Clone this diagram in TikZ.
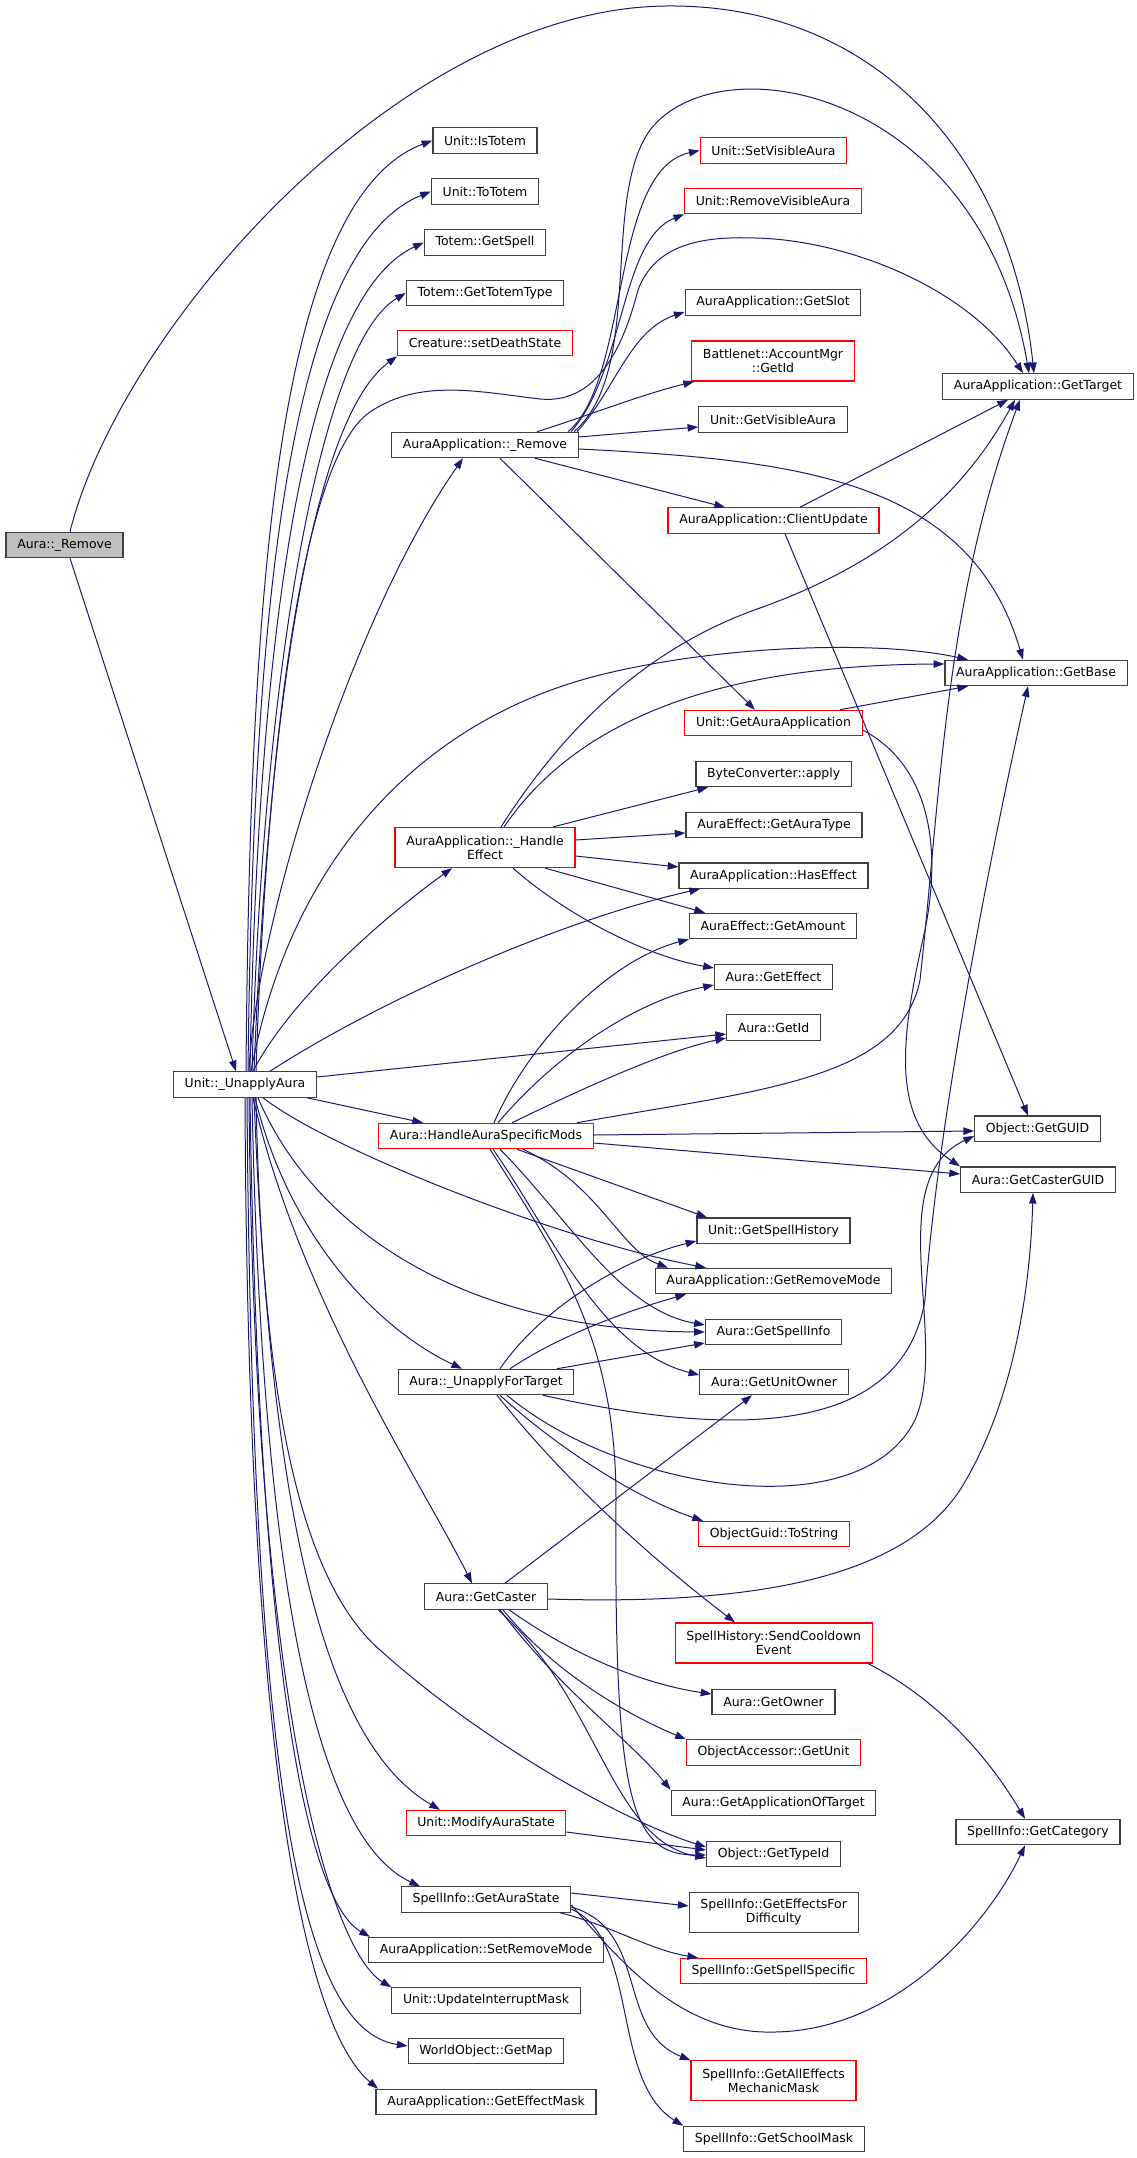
\documentclass[tikz,border=0pt]{standalone}
\usepackage{fontspec}
\setmainfont{DejaVu Sans}
\usetikzlibrary{arrows.meta}
\definecolor{edgeblue}{RGB}{25,25,112}
\definecolor{boxgray}{RGB}{64,64,64}
\definecolor{rootfill}{RGB}{191,191,191}
\begin{document}
\begin{tikzpicture}[x=0.75pt,y=-0.75pt,>={Triangle[length=8pt,width=5.6pt]},font=\fontsize{9.35pt}{10.5pt}\selectfont,
  fn/.style={draw=boxgray,line width=0.9pt,fill=white,inner xsep=8.4pt,inner ysep=2pt,minimum height=19pt,align=center},
  fnred/.style={fn,draw=red},
  fnroot/.style={fn,fill=rootfill},
  twoline/.style={minimum height=30pt},
  call/.style={->,draw=edgeblue,line width=0.75pt}]
\useasboundingbox (0,0) rectangle (1136,2158);
\node[fnroot] (remove) at (64.5,545) {Aura::\_Remove};
\node[fn] (unapply) at (245,1084.5) {Unit::\_UnapplyAura};
\node[fn] (isTotem) at (485,140.5) {Unit::IsTotem};
\node[fn] (toTotem) at (485,191.5) {Unit::ToTotem};
\node[fn] (getSpell) at (485,242.5) {Totem::GetSpell};
\node[fn] (totemType) at (485,293) {Totem::GetTotemType};
\node[fnred] (deathState) at (485,343) {Creature::setDeathState};
\node[fn] (appRemove) at (485,445) {AuraApplication::\_Remove};
\node[fnred,twoline] (handleEffect) at (485,847.5) {AuraApplication::\_Handle\\Effect};
\node[fnred] (specificMods) at (486,1136) {Aura::HandleAuraSpecificMods};
\node[fn] (unapplyTarget) at (486,1382) {Aura::\_UnapplyForTarget};
\node[fn] (getCaster) at (486,1596.5) {Aura::GetCaster};
\node[fnred] (modifyState) at (486,1823) {Unit::ModifyAuraState};
\node[fn] (auraState) at (486,1899.5) {SpellInfo::GetAuraState};
\node[fn] (setRemoveMode) at (486,1950) {AuraApplication::SetRemoveMode};
\node[fn] (interruptMask) at (486,2000.5) {Unit::UpdateInterruptMask};
\node[fn] (getMap) at (486,2051) {WorldObject::GetMap};
\node[fn] (effectMask) at (486,2102) {AuraApplication::GetEffectMask};
\node[fnred] (setVisible) at (773.5,150.5) {Unit::SetVisibleAura};
\node[fnred] (removeVisible) at (773,201) {Unit::RemoveVisibleAura};
\node[fn] (getSlot) at (773,302.5) {AuraApplication::GetSlot};
\node[fnred,twoline] (bnetId) at (773,361) {Battlenet::AccountMgr\\::GetId};
\node[fn] (getVisible) at (773,419.5) {Unit::GetVisibleAura};
\node[fnred] (clientUpdate) at (773.5,520.5) {AuraApplication::ClientUpdate};
\node[fnred] (getAuraApp) at (773.5,723) {Unit::GetAuraApplication};
\node[fn] (byteApply) at (773.7,774) {ByteConverter::apply};
\node[fn] (auraType) at (774,825) {AuraEffect::GetAuraType};
\node[fn] (hasEffect) at (773.5,875.7) {AuraApplication::HasEffect};
\node[fn] (getAmount) at (773,926) {AuraEffect::GetAmount};
\node[fn] (getEffect) at (773.5,977) {Aura::GetEffect};
\node[fn] (getId) at (773.5,1027.5) {Aura::GetId};
\node[fn] (spellHistory) at (773.5,1230.7) {Unit::GetSpellHistory};
\node[fn] (getRemoveMode) at (773.5,1281) {AuraApplication::GetRemoveMode};
\node[fn] (spellInfo) at (773.5,1332) {Aura::GetSpellInfo};
\node[fn] (unitOwner) at (774,1382) {Aura::GetUnitOwner};
\node[fnred] (toString) at (774,1534) {ObjectGuid::ToString};
\node[fnred,twoline] (cooldownEvent) at (773.7,1643) {SpellHistory::SendCooldown\\Event};
\node[fn] (getOwner) at (773.5,1702) {Aura::GetOwner};
\node[fnred] (getUnit) at (773.5,1752.5) {ObjectAccessor::GetUnit};
\node[fn] (appOfTarget) at (773.5,1803) {Aura::GetApplicationOfTarget};
\node[fn] (typeId) at (773.5,1854) {Object::GetTypeId};
\node[fn,twoline] (effectsDiff) at (773.7,1912.5) {SpellInfo::GetEffectsFor\\Difficulty};
\node[fnred] (spellSpecific) at (773.3,1971) {SpellInfo::GetSpellSpecific};
\node[fnred,twoline] (mechanicMask) at (773.5,2080.8) {SpellInfo::GetAllEffects\\MechanicMask};
\node[fn] (schoolMask) at (774,2139) {SpellInfo::GetSchoolMask};
\node[fn] (getTarget) at (1038,386.5) {AuraApplication::GetTarget};
\node[fn] (getBase) at (1036,673) {AuraApplication::GetBase};
\node[fn] (getGuid) at (1037.5,1128.7) {Object::GetGUID};
\node[fn] (casterGuid) at (1038,1179.6) {Aura::GetCasterGUID};
\node[fn] (getCategory) at (1038,1832) {SpellInfo::GetCategory};
\draw[call] (remove.north -| 70,0) .. controls (120,330) and (400,8) .. (667,6) .. controls (870,4) and (1010,150) .. (getTarget.north -| 1034,0);
\draw[call] (remove.south -| 70,0) -- (unapply.north -| 236,0);
\draw[call] (unapply.north -| 246,0) .. controls (250,600) and (275,200) .. (isTotem.west);
\draw[call] (unapply.north -| 248,0) .. controls (253,630) and (285,250) .. (toTotem.west);
\draw[call] (unapply.north -| 250,0) .. controls (257,660) and (300,300) .. (getSpell.west);
\draw[call] (unapply.north -| 252,0) .. controls (262,690) and (318,345) .. (totemType.west);
\draw[call] (unapply.north -| 254,0) .. controls (268,720) and (310,420) .. (deathState.south west);
\draw[call] (unapply.north -| 256,0) .. controls (266,760) and (300,460) .. (370,412) .. controls (420,378) and (480,392) .. (540,399) .. controls (600,405) and (625,340) .. (638,290) .. controls (655,245) and (700,236) .. (755,238) .. controls (850,240) and (970,290) .. (getTarget.north -| 1023,0);
\draw[call] (unapply.north -| 249,0) .. controls (255,930) and (350,620) .. (appRemove.south -| 463,0);
\draw[call] (unapply.north -| 251,0) .. controls (290,860) and (420,720) .. (600,675) .. controls (720,645) and (880,640) .. (getBase.north -| 968,0);
\draw[call] (unapply.north -| 253,0) .. controls (290,1000) and (380,920) .. (handleEffect.south -| 452,0);
\draw[call] (unapply.north -| 270,0) .. controls (380,1000) and (560,920) .. (hasEffect.south -| 700,0);
\draw[call] (unapply.east |- 0,1077) -- (getId.west |- 0,1034);
\draw[call] (unapply.south -| 307,0) -- (specificMods.north -| 423,0);
\draw[call] (unapply.south -| 263,0) .. controls (330,1150) and (560,1240) .. (getRemoveMode.north -| 706,0);
\draw[call] (unapply.south -| 258,0) .. controls (310,1220) and (450,1330) .. (spellInfo.west);
\draw[call] (unapply.south -| 255,0) .. controls (290,1240) and (380,1330) .. (unapplyTarget.north -| 462,0);
\draw[call] (unapply.south -| 253,0) .. controls (300,1300) and (420,1480) .. (getCaster.north -| 472,0);
\draw[call] (unapply.south -| 256,0) .. controls (262,1400) and (300,1580) .. (380,1650) .. controls (480,1740) and (620,1820) .. (typeId.west |- 0,1847);
\draw[call] (unapply.south -| 254,0) .. controls (270,1500) and (320,1740) .. (modifyState.north -| 440,0);
\draw[call] (unapply.south -| 252,0) .. controls (262,1600) and (320,1840) .. (auraState.north -| 420,0);
\draw[call] (unapply.south -| 250,0) .. controls (258,1650) and (305,1900) .. (setRemoveMode.north -| 370,0);
\draw[call] (unapply.south -| 249,0) .. controls (254,1700) and (330,1950) .. (interruptMask.north west);
\draw[call] (unapply.south -| 247,0) .. controls (252,1780) and (300,2030) .. (getMap.west |- 0,2046);
\draw[call] (unapply.south -| 245,0) .. controls (248,1850) and (320,2040) .. (effectMask.north -| 378,0);
\draw[call] (appRemove.north -| 568,0) .. controls (630,380) and (610,170) .. (setVisible.west);
\draw[call] (appRemove.north -| 571,0) .. controls (625,370) and (620,240) .. (removeVisible.south west);
\draw[call] (appRemove.north -| 574,0) .. controls (645,370) and (600,200) .. (650,130) .. controls (720,40) and (980,90) .. (getTarget.north -| 1029,0);
\draw[call] (appRemove.north -| 577,0) .. controls (615,390) and (630,330) .. (getSlot.west |- 0,312);
\draw[call] (appRemove.north -| 537,0) .. controls (590,415) and (640,395) .. (bnetId.south -| 694,0);
\draw[call] (appRemove.east |- 0,437) -- (getVisible.west |- 0,427);
\draw[call] (appRemove.east |- 0,449) .. controls (800,460) and (970,480) .. (getBase.north -| 1023,0);
\draw[call] (appRemove.south -| 535,0) -- (clientUpdate.north -| 725,0);
\draw[call] (appRemove.south -| 500,0) -- (getAuraApp.north -| 755,0);
\draw[call] (clientUpdate.north -| 800,0) -- (getTarget.south -| 1008,0);
\draw[call] (clientUpdate.south -| 785,0) -- (getGuid.north -| 1028,0);
\draw[call] (getAuraApp.north -| 840,0) -- (getBase.south -| 968,0);
\draw[call] (getAuraApp.east |- 0,730) .. controls (920,760) and (945,830) .. (925,930) .. controls (900,1040) and (890,1120) .. (casterGuid.north west);
\draw[call] (handleEffect.north -| 501,0) .. controls (560,735) and (640,650) .. (760,608) .. controls (880,565) and (960,500) .. (getTarget.south -| 1015,0);
\draw[call] (handleEffect.north -| 504,0) .. controls (570,730) and (700,665) .. (getBase.west |- 0,664);
\draw[call] (handleEffect.north -| 553,0) -- (byteApply.south -| 708,0);
\draw[call] (handleEffect.east |- 0,840) -- (auraType.west |- 0,833);
\draw[call] (handleEffect.east |- 0,856) -- (hasEffect.west |- 0,867);
\draw[call] (handleEffect.south -| 545,0) -- (getAmount.north -| 705,0);
\draw[call] (handleEffect.south -| 513,0) .. controls (560,910) and (640,955) .. (getEffect.west |- 0,968);
\draw[call] (specificMods.north -| 577,0) .. controls (760,1090) and (900,1080) .. (920,980) .. controls (940,800) and (945,600) .. (getTarget.south -| 1020,0);
\draw[call] (specificMods.east |- 0,1135) -- (getGuid.west |- 0,1131);
\draw[call] (specificMods.east |- 0,1143) -- (casterGuid.west |- 0,1174);
\draw[call] (specificMods.north -| 494,0) .. controls (530,1040) and (610,960) .. (getAmount.south west);
\draw[call] (specificMods.north -| 498,0) .. controls (560,1050) and (640,1000) .. (getEffect.west |- 0,985);
\draw[call] (specificMods.north -| 512,0) .. controls (600,1080) and (670,1050) .. (getId.west |- 0,1038);
\draw[call] (specificMods.south -| 517,0) -- (spellHistory.north -| 707,0);
\draw[call] (specificMods.south -| 523,0) .. controls (600,1185) and (620,1250) .. (getRemoveMode.north -| 668,0);
\draw[call] (specificMods.south -| 500,0) .. controls (570,1220) and (620,1310) .. (spellInfo.west |- 0,1325);
\draw[call] (specificMods.south -| 493,0) .. controls (550,1230) and (600,1350) .. (unitOwner.west |- 0,1375);
\draw[call] (specificMods.south -| 490,0) .. controls (560,1260) and (616,1340) .. (616,1500) .. controls (614,1800) and (630,1855) .. (typeId.west |- 0,1855);
\draw[call] (unapplyTarget.north -| 500,0) .. controls (540,1310) and (620,1260) .. (spellHistory.west |- 0,1241);
\draw[call] (unapplyTarget.north -| 510,0) .. controls (560,1335) and (630,1310) .. (getRemoveMode.south -| 686,0);
\draw[call] (unapplyTarget.north -| 557,0) -- (spellInfo.west |- 0,1343);
\draw[call] (unapplyTarget.south -| 543,0) .. controls (700,1430) and (900,1450) .. (925,1300) .. controls (935,1150) and (980,900) .. (getBase.south -| 1028,0);
\draw[call] (unapplyTarget.south -| 507,0) .. controls (620,1490) and (860,1530) .. (915,1420) .. controls (950,1340) and (880,1180) .. (getGuid.west |- 0,1136);
\draw[call] (unapplyTarget.south -| 500,0) .. controls (560,1450) and (640,1500) .. (toString.north -| 703,0);
\draw[call] (unapplyTarget.south -| 497,0) .. controls (580,1500) and (680,1580) .. (cooldownEvent.north -| 735,0);
\draw[call] (getCaster.north -| 505,0) -- (unitOwner.south -| 752,0);
\draw[call] (getCaster.east |- 0,1599) .. controls (750,1605) and (900,1580) .. (960,1490) .. controls (1010,1410) and (1030,1300) .. (casterGuid.south -| 1033,0);
\draw[call] (getCaster.south -| 509,0) .. controls (580,1660) and (650,1685) .. (getOwner.west |- 0,1694);
\draw[call] (getCaster.south -| 503,0) .. controls (560,1680) and (640,1720) .. (getUnit.north west);
\draw[call] (getCaster.south -| 500,0) .. controls (560,1690) and (630,1740) .. (appOfTarget.north west);
\draw[call] (getCaster.south -| 498,0) .. controls (600,1700) and (610,1840) .. (typeId.west |- 0,1858);
\draw[call] (cooldownEvent.south -| 868,0) .. controls (940,1700) and (990,1760) .. (getCategory.north -| 1025,0);
\draw[call] (modifyState.east |- 0,1832) -- (typeId.west |- 0,1850);
\draw[call] (auraState.east |- 0,1893) -- (effectsDiff.west |- 0,1906);
\draw[call] (auraState.south -| 560,0) .. controls (610,1925) and (650,1950) .. (spellSpecific.north -| 698,0);
\draw[call] (auraState.east |- 0,1905) .. controls (620,1960) and (680,2035) .. (775,2032) .. controls (900,2030) and (990,1920) .. (getCategory.south -| 1025,0);
\draw[call] (auraState.east |- 0,1907) .. controls (650,1930) and (615,2030) .. (mechanicMask.north west);
\draw[call] (auraState.east |- 0,1909) .. controls (640,1940) and (610,2080) .. (schoolMask.north west);
\end{tikzpicture}
\end{document}
